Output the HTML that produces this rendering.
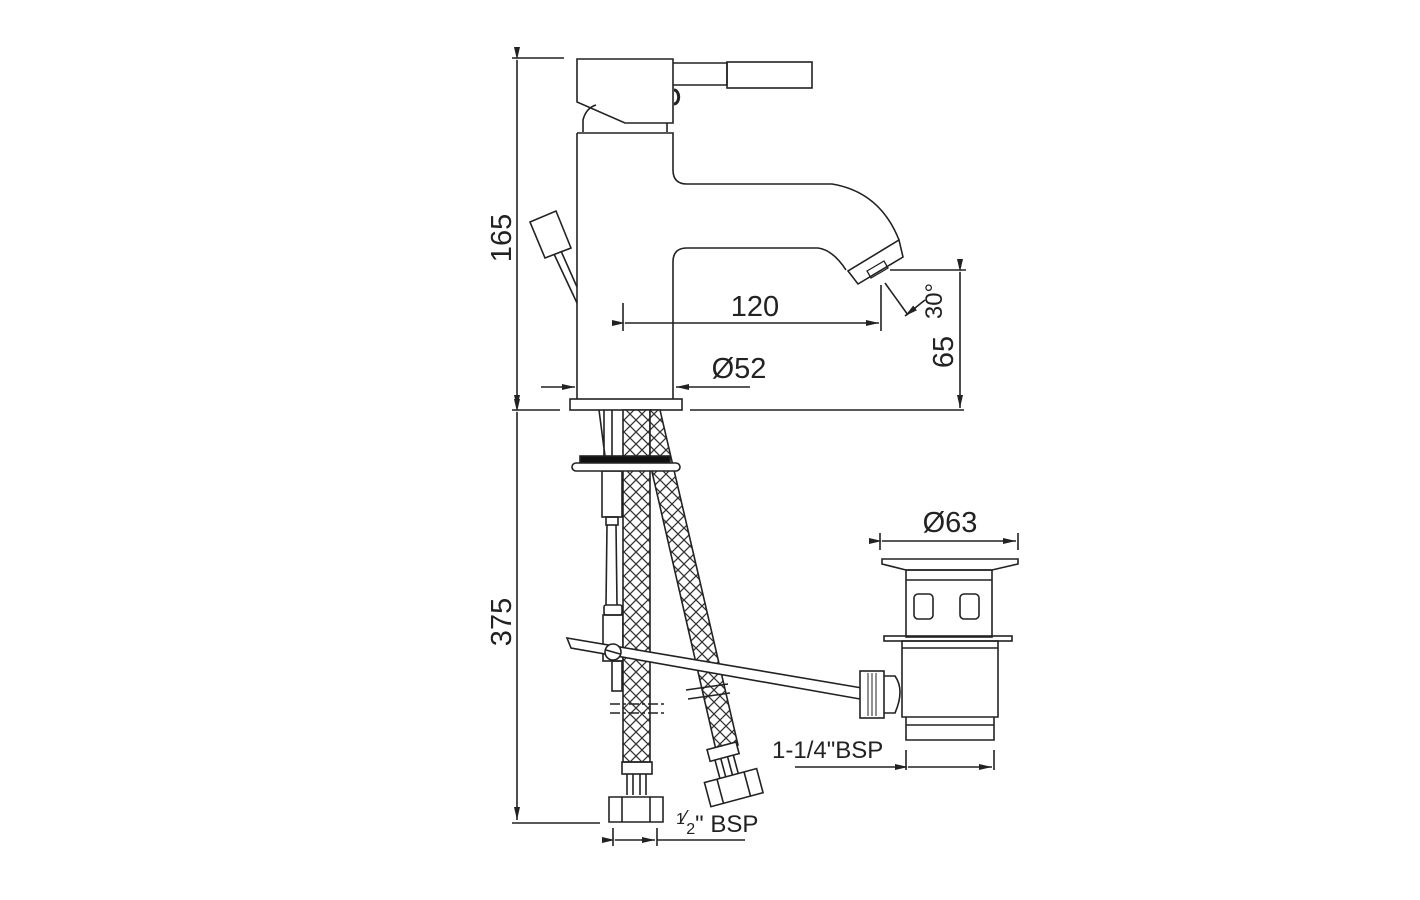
<!DOCTYPE html>
<html><head><meta charset="utf-8"><style>
html,body{margin:0;padding:0;background:#fff;}
svg{display:block;}
text{font-family:"Liberation Sans",sans-serif;fill:#222;}
</style></head><body>
<svg width="1420" height="900" viewBox="0 0 1420 900" xmlns="http://www.w3.org/2000/svg">
<defs>
<pattern id="mesh" width="12" height="12" patternUnits="userSpaceOnUse">
<rect width="12" height="12" fill="#fff"/>
<path d="M0 0L12 12M12 0L0 12" stroke="#333" stroke-width="1.3"/>
</pattern>
<marker id="ar" markerWidth="14" markerHeight="8" refX="13" refY="4" orient="auto" markerUnits="userSpaceOnUse">
<path d="M0 1L13 4L0 7Z" fill="#222"/>
</marker>
</defs>
<g fill="none" stroke="#222" stroke-width="1.6">
<line x1="517" y1="60" x2="517" y2="408" marker-start="url(#ar)" marker-end="url(#ar)"/>
<line x1="517" y1="412" x2="517" y2="820" marker-start="url(#ar)" marker-end="url(#ar)"/>
<line x1="512" y1="58" x2="564" y2="58"/>
<line x1="512" y1="410" x2="560" y2="410"/>
<line x1="690" y1="410" x2="964" y2="410"/>
<line x1="512" y1="823" x2="600" y2="823"/>

<path d="M577 59H673V123H625L577 102Z"/>
<path d="M673 63H727V85H673"/>
<rect x="727" y="62" width="85" height="26"/>
<path d="M674 90a4 6 0 0 1 0 14" stroke-width="3"/>
<path d="M583 132V120Q586 108 596 105"/>
<path d="M667 123V132"/>
<path d="M577 133H673V170Q673 184 687 184H832Q880 192 899 240"/>
<path d="M577 133V399"/>
<path d="M673 399V262Q673 248 687 248H818Q833 250 846 270"/>
<polygon points="899,240 903,257 858,284 848,271"/>
<polygon points="867,271 884,261 888,268 871,278" stroke-width="1.3"/>
<rect x="570" y="399" width="112" height="11"/>
<polygon points="530,222 556,211 571,248 545,258"/>
<path d="M554 254L577 303M561 251L577 287"/>

<line x1="623" y1="303" x2="623" y2="331"/>
<line x1="881" y1="285" x2="881" y2="331"/>
<line x1="625" y1="323" x2="879" y2="323" marker-start="url(#ar)" marker-end="url(#ar)"/>
<line x1="885" y1="283" x2="908" y2="315"/>
<line x1="925" y1="300" x2="905" y2="316" marker-end="url(#ar)"/>
<line x1="890" y1="270" x2="966" y2="270"/>
<line x1="960" y1="272" x2="960" y2="408" marker-start="url(#ar)" marker-end="url(#ar)"/>
<line x1="541" y1="387" x2="575" y2="387" marker-end="url(#ar)"/>
<line x1="750" y1="387" x2="676" y2="387" marker-end="url(#ar)"/>

<path d="M599 410L605 456M604 410V456M612 410V456"/>
<rect x="602" y="471" width="20" height="46"/>
<rect x="606" y="517" width="12" height="8"/>
<path d="M607 525L606 605M616 525L617 605"/>
<rect x="604" y="605" width="18" height="10" rx="2"/>
<rect x="603" y="615" width="20" height="46"/>
<rect x="612" y="661" width="10" height="30"/>
<path d="M623 410H650V762H623Z" fill="url(#mesh)"/>
<path d="M650 410L660 410L738 745L716 750L650 463Z" fill="url(#mesh)"/>
<rect x="580" y="456" width="90" height="7" fill="#111"/>
<rect x="572" y="463" width="108" height="8" rx="4" fill="#fff"/>
<path d="M567 638L571 648L860 699L862 688Z" fill="#fff"/>
<circle cx="613" cy="652" r="8" fill="#fff"/>
<line x1="606" y1="650" x2="620" y2="654"/>
<path d="M610 704H665M610 713H665" stroke-dasharray="10 3 3 3"/>
<path d="M686 690L728 684M688 699L730 693"/>
<rect x="622" y="762" width="30" height="12"/>
<path d="M627 774V795M633 774V795M640 774V795M646 774V795"/>
<path d="M609 797H663V822H609Z" fill="#fff"/>
<path d="M622 797V822M650 797V822"/>
<g transform="rotate(-15 728 770)">
<rect x="713" y="745" width="30" height="12" fill="#fff"/>
<path d="M718 757V776M724 757V776M731 757V776M737 757V776"/>
<rect x="702" y="776" width="54" height="25" fill="#fff"/>
<path d="M715 776V801M743 776V801"/>
</g>
<line x1="613" y1="828" x2="613" y2="846"/>
<line x1="657" y1="828" x2="657" y2="846"/>
<line x1="615" y1="840" x2="635" y2="840" marker-start="url(#ar)"/>
<line x1="635" y1="840" x2="655" y2="840" marker-end="url(#ar)"/>
<line x1="657" y1="840" x2="745" y2="840"/>

<line x1="880" y1="533" x2="880" y2="550"/>
<line x1="1018" y1="533" x2="1018" y2="550"/>
<line x1="882" y1="541" x2="1016" y2="541" marker-start="url(#ar)" marker-end="url(#ar)"/>
<path d="M882 559H1018V564L992 570H906L882 564Z"/>
<rect x="906" y="570" width="86" height="67"/>
<line x1="906" y1="580" x2="992" y2="580"/>
<rect x="914" y="594" width="19" height="25" rx="4"/>
<rect x="960" y="594" width="19" height="25" rx="4"/>
<rect x="884" y="636" width="128" height="5"/>
<path d="M902 641H998V717H902Z"/>
<line x1="902" y1="648" x2="998" y2="648"/>
<path d="M906 717V740H994V717"/>
<line x1="906" y1="725" x2="994" y2="725"/>
<rect x="860" y="671" width="24" height="47" fill="#fff"/>
<path d="M868 673V716M872 673V716M876 673V716" stroke-width="1"/>
<path d="M884 676H895Q905 690 895 713H884"/>
<line x1="906" y1="750" x2="906" y2="770"/>
<line x1="994" y1="750" x2="994" y2="770"/>
<line x1="795" y1="767" x2="906" y2="767"/>
<line x1="908" y1="767" x2="992" y2="767" marker-start="url(#ar)" marker-end="url(#ar)"/>
</g>

<g font-size="29">
<text x="755" y="316" text-anchor="middle">120</text>
<text x="739" y="378" text-anchor="middle">Ø52</text>
<text x="950" y="532" text-anchor="middle">Ø63</text>
<text transform="translate(511 238) rotate(-90)" text-anchor="middle">165</text>
<text transform="translate(511 622) rotate(-90)" text-anchor="middle">375</text>
<text transform="translate(953 352) rotate(-90)" text-anchor="middle">65</text>
<text transform="translate(942 301) rotate(-90)" text-anchor="middle" font-size="24">30°</text>
</g>
<g font-size="24">
<text x="772" y="758">1-1/4"BSP</text>
<text x="676" y="832"><tspan font-size="16" dy="-8">1</tspan><tspan font-size="20" dx="-2">⁄</tspan><tspan font-size="16" dy="10">2</tspan><tspan dy="-2">" BSP</tspan></text>
</g>
</svg>
</body></html>
